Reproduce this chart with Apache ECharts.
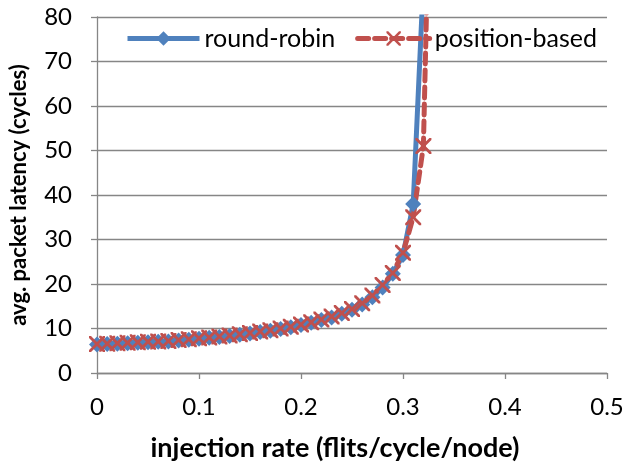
<!DOCTYPE html>
<html>
<head>
<meta charset="utf-8">
<script src="https://cdn.jsdelivr.net/npm/echarts@6/dist/echarts.min.js"></script>
<style>html,body{margin:0;padding:0;background:#fff}#c{width:628px;height:467px}</style>
</head>
<body>
<div id="c"></div>
<script>
const xRoundRobin = [0,0.01,0.02,0.03,0.04,0.05,0.06,0.07,0.08,0.09,0.10,0.11,0.12,0.13,0.14,0.15,0.16,0.17,0.18,0.19,0.20,0.21,0.22,0.23,0.24,0.25,0.26,0.27,0.28,0.29,0.30,0.31,0.32];
const roundRobin = [6.4,6.5,6.6,6.7,6.8,6.9,7.0,7.1,7.3,7.5,7.7,7.9,8.1,8.3,8.6,8.9,9.2,9.5,9.9,10.3,10.8,11.3,11.9,12.5,13.3,14.2,15.4,17.0,19.2,22.3,26.5,38,88];
const xPositionBased = [0,0.01,0.02,0.03,0.04,0.05,0.06,0.07,0.08,0.09,0.10,0.11,0.12,0.13,0.14,0.15,0.16,0.17,0.18,0.19,0.20,0.21,0.22,0.23,0.24,0.25,0.26,0.27,0.28,0.29,0.30,0.31,0.32,0.33];
const positionBased = [6.5,6.6,6.7,6.8,6.9,7.0,7.1,7.2,7.4,7.6,7.8,8.0,8.2,8.4,8.7,9.0,9.3,9.6,10.0,10.4,10.9,11.4,12.0,12.7,13.5,14.4,15.7,17.4,19.8,22.5,27,35,51,150];
const seriesNames = ['round-robin','position-based'];
const xTitle = 'injection rate (flits/cycle/node)';
const yTitle = 'avg. packet latency (cycles)';

const FONT = 'Lato';
const xSymbol = 'path://M0,0 L2.5,0 L10,7.5 L17.5,0 L20,0 L20,2.5 L12.5,10 L20,17.5 L20,20 L17.5,20 L10,12.5 L2.5,20 L0,20 L0,17.5 L7.5,10 L0,2.5 Z';

const chart = echarts.init(document.getElementById('c'), null, {renderer:'canvas'});
chart.setOption({
  animation:false,
  backgroundColor:'#fff',
  grid:{left:97,right:21,top:17,bottom:90,containLabel:false},
  legend:{
    top:21, left:120,
    itemWidth:72, itemHeight:18, itemGap:20,
    textStyle:{fontFamily:FONT,fontSize:25,color:'#000'},
    lineStyle:{width:5},
    data:seriesNames
  },
  xAxis:{
    type:'value', min:0, max:0.5, interval:0.1,
    name:xTitle, nameLocation:'middle', nameGap:62,
    nameTextStyle:{fontFamily:FONT,fontSize:27,fontWeight:'bold',color:'#000',padding:[0,34,0,0]},
    axisLine:{show:true,lineStyle:{color:'#868686',width:1.3}},
    axisTick:{show:true,inside:false,length:6,lineStyle:{color:'#868686',width:1.3}},
    axisLabel:{fontFamily:FONT,fontSize:24,color:'#000',margin:22},
    splitLine:{show:false}
  },
  yAxis:{
    type:'value', min:0, max:80, interval:10,
    name:yTitle, nameLocation:'middle', nameGap:67,
    nameTextStyle:{fontFamily:FONT,fontSize:22,fontWeight:'bold',color:'#000'},
    axisLine:{show:true,lineStyle:{color:'#868686',width:1.3}},
    axisTick:{show:true,inside:false,length:6,lineStyle:{color:'#868686',width:1.3}},
    axisLabel:{fontFamily:FONT,fontSize:24,color:'#000',margin:25},
    splitLine:{show:true,lineStyle:{color:'#868686',width:1.3}}
  },
  series:[
    {
      name:seriesNames[0], type:'line', clip:true,
      data:xRoundRobin.map((x,i)=>[x,roundRobin[i]]),
      symbol:'diamond', symbolSize:16,
      itemStyle:{color:'#4F81BD'},
      lineStyle:{color:'#4F81BD',width:5}
    },
    {
      name:seriesNames[1], type:'line', clip:true,
      data:xPositionBased.map((x,i)=>[x,positionBased[i]]),
      symbol:xSymbol, symbolSize:16,
      itemStyle:{color:'#C0504D'},
      lineStyle:{color:'#C0504D',width:5,type:[11,6],cap:'round'}
    }
  ]
});
</script>
</body>
</html>
